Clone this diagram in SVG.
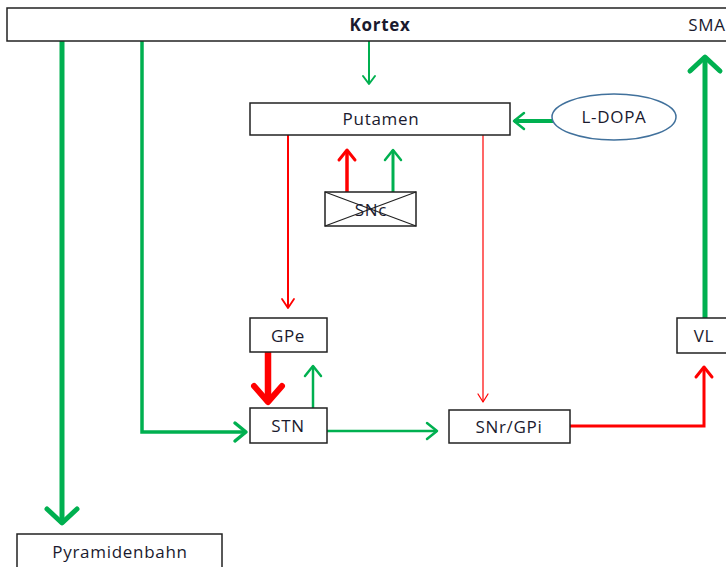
<svg xmlns="http://www.w3.org/2000/svg" width="726" height="567" viewBox="0 0 726 567">
<defs>
<style>
.box{fill:#fff;stroke:#222;stroke-width:1.5}
.t{font-family:"Open Sans","Liberation Sans",sans-serif;font-size:17px;letter-spacing:0.7px;fill:#1a1a2e;text-anchor:middle;dominant-baseline:central}
.g{stroke:#00B050;fill:none}
.r{stroke:#FF0000;fill:none}
.hg{fill:none;stroke:#00B050;stroke-linecap:round;stroke-linejoin:round}
.hr{fill:none;stroke:#FF0000;stroke-linecap:round;stroke-linejoin:round}
</style>
<marker id="gXL" viewBox="-4 -4 24 38" refX="14" refY="15" markerWidth="24" markerHeight="38" orient="auto" markerUnits="userSpaceOnUse"><path class="hg" d="M0,0 L14,15 L0,30" stroke-width="5"/></marker>
<marker id="gL" viewBox="-3 -3 18 24" refX="11" refY="9" markerWidth="18" markerHeight="24" orient="auto" markerUnits="userSpaceOnUse"><path class="hg" d="M0,0 L11,9 L0,18" stroke-width="3.5"/></marker>
<marker id="gM" viewBox="-3 -3 16 22" refX="10" refY="8" markerWidth="16" markerHeight="22" orient="auto" markerUnits="userSpaceOnUse"><path class="hg" d="M0,0 L10,8 L0,16" stroke-width="2.5"/></marker>
<marker id="gS" viewBox="-3 -3 14 18" refX="8" refY="6" markerWidth="14" markerHeight="18" orient="auto" markerUnits="userSpaceOnUse"><path class="hg" d="M0,0 L8,6 L0,12" stroke-width="2"/></marker>
<marker id="rXL" viewBox="-5 -5 26 38" refX="16" refY="14" markerWidth="26" markerHeight="38" orient="auto" markerUnits="userSpaceOnUse"><path class="hr" d="M0,0 L16,14 L0,28" stroke-width="6"/></marker>
<marker id="rM" viewBox="-3 -3 16 22" refX="10" refY="8" markerWidth="16" markerHeight="22" orient="auto" markerUnits="userSpaceOnUse"><path class="hr" d="M0,0 L10,8 L0,16" stroke-width="3"/></marker>
<marker id="rS" viewBox="-3 -3 15 18" refX="9" refY="6" markerWidth="15" markerHeight="18" orient="auto" markerUnits="userSpaceOnUse"><path class="hr" d="M0,0 L9,6 L0,12" stroke-width="1.8"/></marker>
<marker id="rT" viewBox="-3 -3 14 16" refX="8" refY="5" markerWidth="14" markerHeight="16" orient="auto" markerUnits="userSpaceOnUse"><path class="hr" d="M0,0 L8,5 L0,10" stroke-width="1.2"/></marker>
</defs>
<g id="connectors">
<path class="g" d="M62,41 V523" stroke-width="5" marker-end="url(#gXL)"/>
<path class="g" d="M142,41 V432 H246" stroke-width="3.5" marker-end="url(#gL)"/>
<path class="g" d="M369,41 V84" stroke-width="2" marker-end="url(#gS)"/>
<path class="g" d="M553,121 H514" stroke-width="4" marker-end="url(#gM)"/>
<path class="r" d="M347,192 V150" stroke-width="3.5" marker-end="url(#rM)"/>
<path class="g" d="M393,192 V150" stroke-width="3" marker-end="url(#gM)"/>
<path class="r" d="M288,135 V308" stroke-width="2" marker-end="url(#rS)"/>
<path class="r" d="M483,133 V402" stroke-width="1.2" marker-end="url(#rT)"/>
<path class="r" d="M268,352 V402" stroke-width="6.5" marker-end="url(#rXL)"/>
<path class="g" d="M313,408 V366" stroke-width="2.5" marker-end="url(#gM)"/>
<path class="g" d="M327,431 H437" stroke-width="2.5" marker-end="url(#gM)"/>
<path class="r" d="M570,426 H704 V367" stroke-width="3" marker-end="url(#rM)"/>
<path class="g" d="M705,318 V57" stroke-width="5" marker-end="url(#gXL)"/>
</g>
<g id="kortex">
<rect class="box" x="7" y="8" width="725" height="33"/>
<text class="t" x="380" y="24" font-weight="bold" letter-spacing="0">Kortex</text>
<text class="t" x="707" y="24">SMA</text>
</g>
<g id="putamen">
<rect class="box" x="250" y="103" width="260" height="32"/>
<text class="t" x="381" y="118" letter-spacing="1.3">Putamen</text>
</g>
<g id="ldopa">
<ellipse cx="614" cy="117" rx="62" ry="23" fill="#fff" stroke="#41719C" stroke-width="1.5"/>
<text class="t" x="614" y="116">L-DOPA</text>
</g>
<g id="snc">
<rect class="box" x="325" y="192" width="91" height="34"/>
<line x1="325" y1="192" x2="416" y2="226" stroke="#222" stroke-width="1.2"/>
<line x1="325" y1="226" x2="416" y2="192" stroke="#222" stroke-width="1.2"/>
<text class="t" x="371" y="209">SNc</text>
</g>
<g id="gpe">
<rect class="box" x="250" y="318" width="77" height="34"/>
<text class="t" x="288" y="335">GPe</text>
</g>
<g id="stn">
<rect class="box" x="250" y="408" width="77" height="35"/>
<text class="t" x="288" y="425">STN</text>
</g>
<g id="snrgpi">
<rect class="box" x="449" y="410" width="121" height="33"/>
<text class="t" x="509" y="426">SNr/GPi</text>
</g>
<g id="vl">
<rect class="box" x="677" y="318" width="55" height="35"/>
<text class="t" x="704" y="335">VL</text>
</g>
<g id="pyramidenbahn">
<rect class="box" x="17" y="534" width="205" height="40"/>
<text class="t" x="120" y="551">Pyramidenbahn</text>
</g>
</svg>
